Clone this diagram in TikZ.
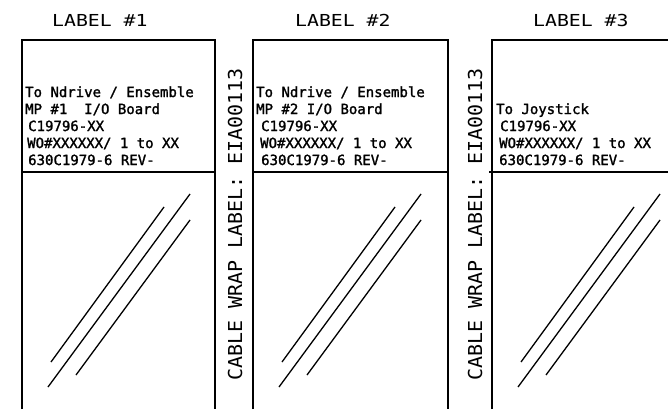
\documentclass[tikz,border=0pt]{standalone}
\usepackage{fontspec}
\newfontfamily\cadtitle[FakeStretch=1.2]{DejaVu Sans Mono}
\newfontfamily\cadbody[FakeBold=1.6]{DejaVu Sans Mono}
\newfontfamily\cadvert[FakeStretch=1.04]{DejaVu Sans Mono}
\begin{document}
\begin{tikzpicture}[x=1pt,y=-1pt,
  frame/.style={line width=1.8pt},
  slash/.style={line width=1.3pt},
  title/.style={anchor=base west,inner sep=0pt,font=\fontsize{16.5}{18}\cadtitle},
  body/.style={anchor=base west,inner sep=0pt,font=\fontsize{14}{16}\cadbody},
  vert/.style={anchor=base west,inner sep=0pt,rotate=90,font=\fontsize{19.2}{20}\cadvert}]
\useasboundingbox (0,0) rectangle (668,409);
% titles
\node[title] (t1) at (52,27) {LABEL \#1};
\node[title] (t2) at (295,27) {LABEL \#2};
\node[title] (t3) at (533,27) {LABEL \#3};
% boxes
\draw[frame] (22,409) -- (22,40) -- (215,40) -- (215,409);
\draw[frame] (22,172) -- (215,172);
\draw[frame] (253,409) -- (253,40) -- (448,40) -- (448,409);
\draw[frame] (253,172) -- (448,172);
\draw[frame] (492,409) -- (492,40) -- (668,40);
\draw[frame] (489,172) -- (668,172);
% box 1 text
\node[body] (a1) at (25,97) {To Ndrive / Ensemble};
\node[body] (a2) at (25,114) {MP \#1\ \ I/O Board};
\node[body] (a3) at (28,131) {C19796-XX};
\node[body] (a4) at (27,148) {WO\#XXXXXX/ 1 to XX};
\node[body] (a5) at (28,165) {630C1979-6 REV-};
% box 2 text
\node[body] (b1) at (256,97) {To Ndrive / Ensemble};
\node[body] (b2) at (256,114) {MP \#2 I/O Board};
\node[body] (b3) at (261,131) {C19796-XX};
\node[body] (b4) at (260,148) {WO\#XXXXXX/ 1 to XX};
\node[body] (b5) at (261,165) {630C1979-6 REV-};
% box 3 text
\node[body] (c1) at (496,114) {To Joystick};
\node[body] (c2) at (500,131) {C19796-XX};
\node[body] (c3) at (499,148) {WO\#XXXXXX/ 1 to XX};
\node[body] (c4) at (499,165) {630C1979-6 REV-};
% vertical labels
\node[vert] (v1) at (242,381) {CABLE WRAP LABEL: EIA00113};
\node[vert] (v2) at (482,381) {CABLE WRAP LABEL: EIA00113};
% slashes
\foreach \dx in {0,231,470}{
  \draw[slash] (51+\dx,362) -- (164+\dx,207);
  \draw[slash] (48+\dx,387) -- (190+\dx,194);
  \draw[slash] (76+\dx,375) -- (190+\dx,220);
}
\end{tikzpicture}
\end{document}
